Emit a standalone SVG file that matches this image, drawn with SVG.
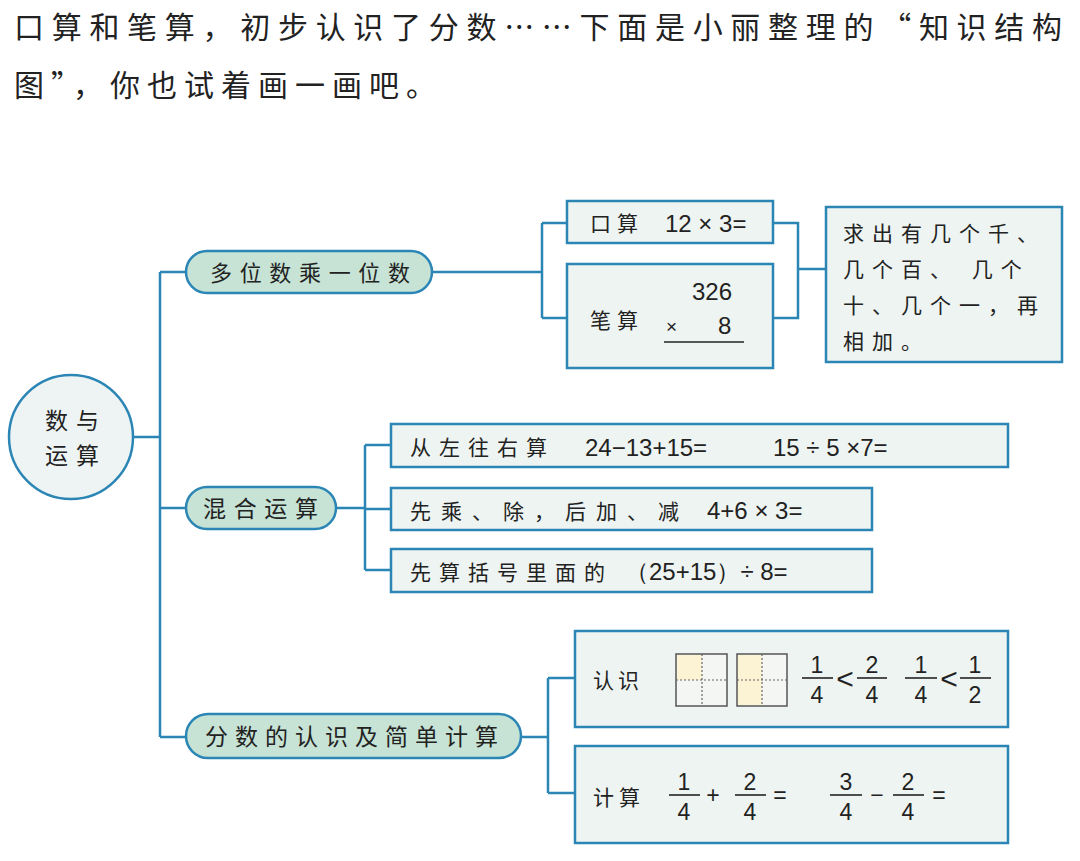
<svg xmlns="http://www.w3.org/2000/svg" width="1080" height="861" viewBox="0 0 1080 861">
<style>
.t{font-family:"Noto Sans CJK SC","Noto Sans",sans-serif;fill:#222;}
.n{font-family:"Liberation Sans","DejaVu Sans",sans-serif;fill:#222;}
.box{fill:#eef4f1;stroke:#2b86b5;stroke-width:2.5;}
.pill{fill:#c6e3d5;stroke:#2b86b5;stroke-width:2.5;}
.ln{fill:none;stroke:#2b86b5;stroke-width:2.5;}
.bar{stroke:#222;stroke-width:1.6;}
.grid{fill:#f4f6f4;stroke:#555;stroke-width:1.5;}
.dot{stroke:#666;stroke-width:1.2;stroke-dasharray:2 2;}
</style>
<rect width="1080" height="861" fill="#ffffff"/>
<g id="title">
<text class="t" x="14" y="38" font-size="30" textLength="1048" lengthAdjust="spacing">口算和笔算，初步认识了分数……下面是小丽整理的“知识结构</text>
<text class="t" x="14" y="96" font-size="30" letter-spacing="7">图”，你也试着画一画吧。</text>
</g>
<g id="connectors">
<path class="ln" d="M133,437 H160 M160,272 V737 M160,272 H186 M160,508 H186 M160,737 H186"/>
<path class="ln" d="M432,272 H542 M542,223 V318 M542,223 H567 M542,318 H567"/>
<path class="ln" d="M773,223 H798 V318 H773 M798,269 H826"/>
<path class="ln" d="M336,508 H365 M365,445 V570 M365,445 H391 M365,509 H391 M365,570 H391"/>
<path class="ln" d="M521,737 H548 M548,678 V793 M548,678 H575 M548,793 H575"/>
</g>
<g id="root">
<circle cx="71" cy="437" r="62" fill="#eef4f4" stroke="#2b86b5" stroke-width="2.5"/>
<text class="t" x="45" y="429" font-size="23" letter-spacing="8">数与</text>
<text class="t" x="45" y="464" font-size="23" letter-spacing="8">运算</text>
</g>
<g id="pill1">
<rect class="pill" x="186" y="251" width="246" height="42" rx="21"/>
<text class="t" x="210" y="281" font-size="22" textLength="200" lengthAdjust="spacing">多位数乘一位数</text>
</g>
<g id="pill2">
<rect class="pill" x="186" y="487" width="150" height="42" rx="21"/>
<text class="t" x="203" y="517" font-size="23" textLength="115" lengthAdjust="spacing">混合运算</text>
</g>
<g id="pill3">
<rect class="pill" x="186" y="714" width="335" height="44" rx="22"/>
<text class="t" x="205" y="745" font-size="23" textLength="293" lengthAdjust="spacing">分数的认识及简单计算</text>
</g>
<g id="oral">
<rect class="box" x="567" y="201" width="206" height="42"/>
<text class="t" x="590" y="231" font-size="21" letter-spacing="6">口算</text>
<text class="n" x="665" y="232" font-size="24">12 × 3=</text>
</g>
<g id="written">
<rect class="box" x="567" y="264" width="206" height="104"/>
<text class="t" x="590" y="328" font-size="21" letter-spacing="6">笔算</text>
<text class="n" x="692" y="300" font-size="24">326</text>
<text class="n" x="666" y="333" font-size="19">×</text>
<text class="n" x="718" y="334" font-size="24">8</text>
<line class="bar" x1="664" y1="342" x2="744" y2="342"/>
</g>
<g id="rule">
<rect class="box" x="826" y="207" width="236" height="155"/>
<text class="t" x="843" y="241" font-size="21" letter-spacing="8">求出有几个千、</text>
<text class="t" x="843" y="277" font-size="21" letter-spacing="8">几个百、 几个</text>
<text class="t" x="843" y="313" font-size="21" letter-spacing="8">十、几个一，再</text>
<text class="t" x="843" y="349" font-size="21" letter-spacing="8">相加。</text>
</g>
<g id="mixA">
<rect class="box" x="391" y="424" width="617" height="43"/>
<text class="t" x="410" y="455" font-size="21" letter-spacing="8">从左往右算</text>
<text class="n" x="585" y="456" font-size="24">24−13+15=</text>
<text class="n" x="773" y="456" font-size="24">15 ÷ 5 ×7=</text>
</g>
<g id="mixB">
<rect class="box" x="391" y="488" width="481" height="42"/>
<text class="t" x="410" y="519" font-size="21" letter-spacing="10">先乘、除，后加、减</text>
<text class="n" x="707" y="519" font-size="24">4+6 × 3=</text>
</g>
<g id="mixC">
<rect class="box" x="391" y="549" width="481" height="43"/>
<text class="t" x="410" y="580" font-size="21" letter-spacing="8">先算括号里面的</text>
<text class="n" x="625" y="580" font-size="24">（25+15）÷ 8=</text>
</g>
<g id="recognize">
<rect class="box" x="575" y="631" width="433" height="96"/>
<text class="t" x="593" y="688" font-size="21" letter-spacing="4">认识</text>
<rect class="grid" x="676" y="654" width="51" height="52"/>
<rect x="677" y="655" width="25" height="25" fill="#fcf2d4"/>
<line class="dot" x1="702" y1="654" x2="702" y2="706"/>
<line class="dot" x1="676" y1="680" x2="727" y2="680"/>
<rect class="grid" x="737" y="654" width="50" height="52"/>
<rect x="738" y="655" width="24" height="50" fill="#fcf2d4"/>
<line class="dot" x1="762" y1="654" x2="762" y2="706"/>
<line class="dot" x1="737" y1="680" x2="787" y2="680"/>
<g class="n" font-size="23" text-anchor="middle">
<text x="817" y="673">1</text><line class="bar" x1="802" y1="678" x2="833" y2="678"/><text x="817" y="703">4</text>
<text x="845" y="689" font-size="30">&lt;</text>
<text x="872" y="673">2</text><line class="bar" x1="857" y1="678" x2="887" y2="678"/><text x="872" y="703">4</text>
<text x="921" y="673">1</text><line class="bar" x1="905" y1="678" x2="937" y2="678"/><text x="921" y="703">4</text>
<text x="949" y="689" font-size="30">&lt;</text>
<text x="975" y="673">1</text><line class="bar" x1="960" y1="678" x2="991" y2="678"/><text x="975" y="703">2</text>
</g>
</g>
<g id="compute">
<rect class="box" x="575" y="746" width="433" height="97"/>
<text class="t" x="593" y="805" font-size="21" letter-spacing="5">计算</text>
<g class="n" font-size="23" text-anchor="middle">
<text x="684" y="790">1</text><line class="bar" x1="669" y1="795" x2="700" y2="795"/><text x="684" y="820">4</text>
<text x="713" y="803">+</text>
<text x="750" y="790">2</text><line class="bar" x1="735" y1="795" x2="766" y2="795"/><text x="750" y="820">4</text>
<text x="780" y="803">=</text>
<text x="846" y="790">3</text><line class="bar" x1="830" y1="795" x2="862" y2="795"/><text x="846" y="820">4</text>
<text x="877" y="803">−</text>
<text x="908" y="790">2</text><line class="bar" x1="893" y1="795" x2="924" y2="795"/><text x="908" y="820">4</text>
<text x="939" y="803">=</text>
</g>
</g>
</svg>
